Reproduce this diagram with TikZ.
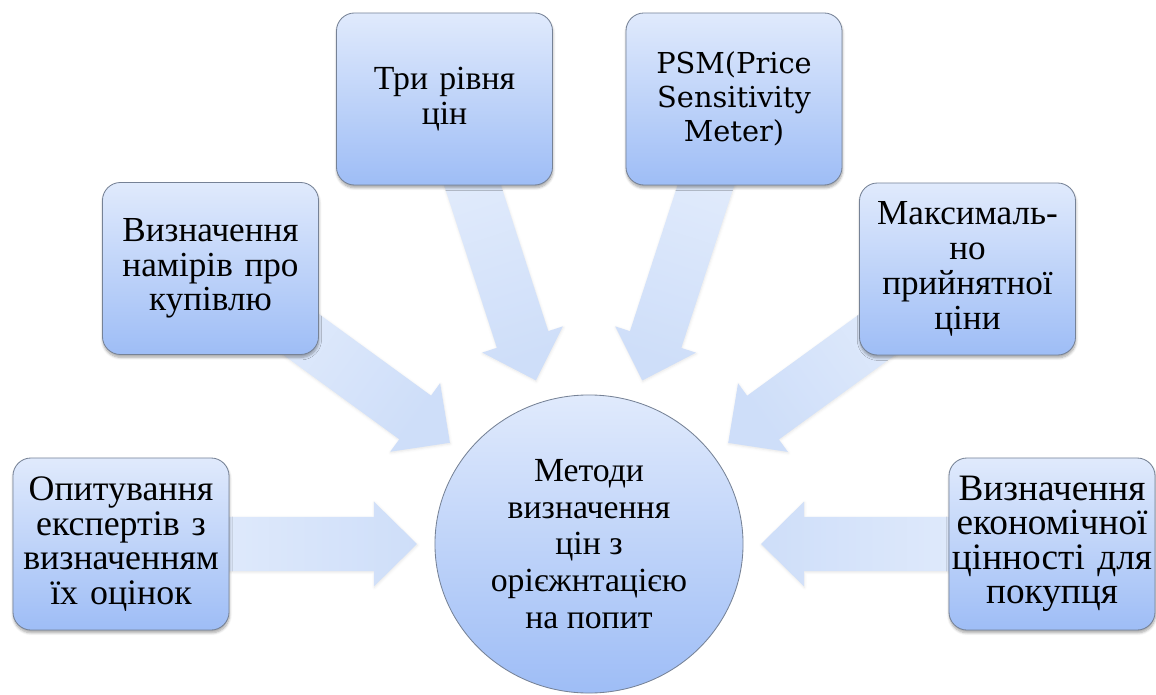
\documentclass[tikz,border=0pt]{standalone}
\usepackage{fontspec}
\setmainfont{Liberation Serif}
\newfontfamily\psmfont{DejaVu Serif}
\usetikzlibrary{calc,shapes.geometric,shadows.blur,backgrounds}

\definecolor{boxtop}{RGB}{224,234,252}
\definecolor{boxbot}{RGB}{158,189,246}
\definecolor{boxline}{RGB}{118,130,150}
\definecolor{flowtail}{RGB}{231,239,252}
\definecolor{flowtip}{RGB}{206,222,249}

\tikzstyle{method} = [draw=boxline, line width=0.6pt, rounded corners=0.45cm,
    top color=boxtop, bottom color=boxbot, minimum width=5.4cm, minimum height=4.3cm,
    text width=5.3cm, align=center, inner sep=0pt,
    font=\fontsize{25.5}{24.5}\selectfont,
    blur shadow={shadow xshift=0.3pt, shadow yshift=-2pt, shadow opacity=35, shadow blur steps=6}]
\tikzstyle{hub} = [ellipse, draw=boxline, line width=0.6pt, top color=boxtop, bottom color=boxbot,
    minimum width=7.7cm, minimum height=7.45cm, inner sep=0pt, align=center,
    font=\fontsize{24}{26}\selectfont]
\tikzstyle{flow} = [top color=flowtip, bottom color=flowtail,
    blur shadow={shadow xshift=0.3pt, shadow yshift=-0.8pt, shadow opacity=10, shadow blur steps=4}]

% block arrow from a box towards the hub; #2 = shading angle
\newcommand{\convarrow}[2]{%
  \coordinate (#1tip) at ($(goal.center)!4.3cm!(#1.center)$);
  \coordinate (#1base) at ($(#1tip)!1.075cm!(#1.center)$);
  \shade[flow, shading angle=#2]
    ($(#1.center)!0.675cm!90:(#1base)$) --
    ($(#1base)!0.675cm!-90:(#1.center)$) --
    ($(#1base)!1.06cm!-90:(#1.center)$) --
    (#1tip) --
    ($(#1base)!1.06cm!90:(#1.center)$) --
    ($(#1base)!0.675cm!90:(#1.center)$) --
    ($(#1.center)!0.675cm!-90:(#1base)$) -- cycle;
}

\begin{document}
\begin{tikzpicture}[x=0.025cm, y=-0.025cm]
    \useasboundingbox (0,0) rectangle (1156,695);

    \node[hub] (goal) at (589,544) {Методи\\визначення\\цін з\\орієжнтацією\\на попит};

    \node[method] (survey) at (121,544) {Опитування\\експертів з\\визначенням\\їх оцінок};
    \node[method, font=\fontsize{25}{24.5}\selectfont] (intent) at (210.5,268.5)
        {Визначення\\намірів про\\купівлю};
    \node[method, font=\fontsize{24}{24.8}\selectfont] (levels) at (444.5,99) {Три рівня\\цін};
    \node[method, font=\psmfont\fontsize{20.5}{24.2}\selectfont] (psm) at (734,99)
        {PSM(Price\\Sensitivity\\Meter)};
    \node[method, font=\fontsize{25}{24.8}\selectfont] (maxprice) at (967.5,269)
        {Максималь-\\но\\прийнятної\\ціни};
    \node[method, minimum width=5.15cm, text width=5.1cm, font=\fontsize{26.5}{24.5}\selectfont]
        (value) at (1052,544) {Визначення\\економічної\\цінності для\\покупця};

    \begin{pgfonlayer}{background}
        \convarrow{survey}{-90}
        \convarrow{intent}{-126}
        \convarrow{levels}{-162}
        \convarrow{psm}{-198}
        \convarrow{maxprice}{-234}
        \convarrow{value}{90}
    \end{pgfonlayer}
\end{tikzpicture}
\end{document}
